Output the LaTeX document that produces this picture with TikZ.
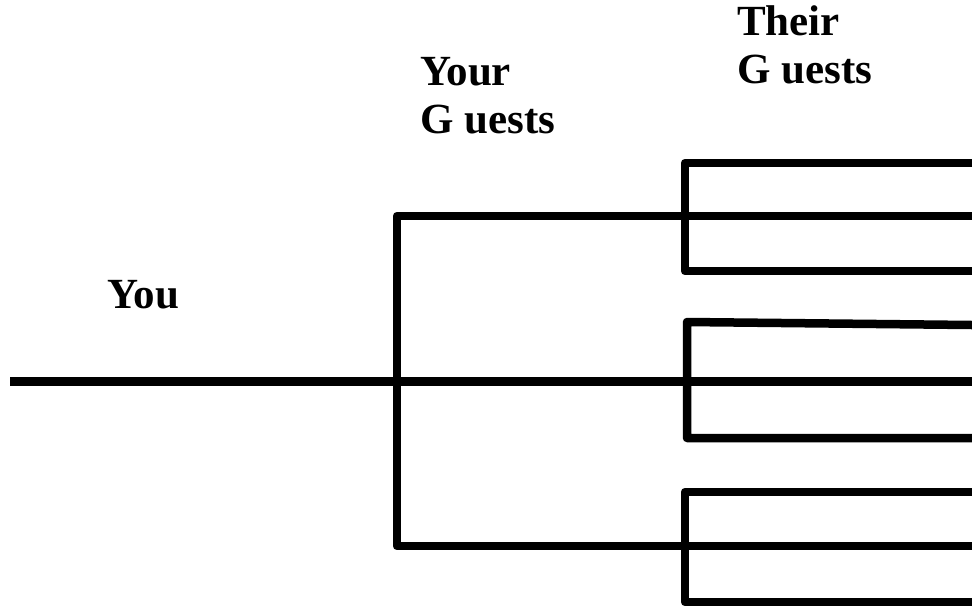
\documentclass[tikz,border=0pt]{standalone}
\usepackage{fontspec}
\setmainfont{Liberation Serif}
\begin{document}
\begin{tikzpicture}[x=1pt,y=-1pt,
  branch/.style={line width=8.5pt, line join=round},
  lbl/.style={anchor=base west, inner sep=0pt, font=\bfseries\fontsize{43}{48}\selectfont, align=left}]
\useasboundingbox (0,0) rectangle (972,606);
% labels (anchored at the baseline of the last line)
\node[lbl] (you) at (107,308) {You};
\node[lbl] (yours) at (420,133) {Your\\G uests};
\node[lbl] (theirs) at (737,83) {Their\\G uests};
% coordinates
\coordinate (root) at (10,381.5);
\coordinate (ra) at (972,381.5);
\coordinate (ta) at (972,216);
\coordinate (tb) at (397,216);
\coordinate (ba) at (397,546);
\coordinate (bb) at (972,546);
% group 1
\coordinate (g1a) at (972,163);
\coordinate (g1b) at (685,163);
\coordinate (g1c) at (685,271);
\coordinate (g1d) at (972,271);
% group 2
\coordinate (g2a) at (972,325);
\coordinate (g2b) at (687,322);
\coordinate (g2c) at (687,438);
\coordinate (g2d) at (972,438);
% group 3
\coordinate (g3a) at (972,492);
\coordinate (g3b) at (685,492);
\coordinate (g3c) at (685,602);
\coordinate (g3d) at (972,602);
% drawing
\draw[branch] (root) -- (ra);
\draw[branch] (ta) -- (tb) -- (ba) -- (bb);
\draw[branch] (g1a) -- (g1b) -- (g1c) -- (g1d);
\draw[branch] (g2a) -- (g2b) -- (g2c) -- (g2d);
\draw[branch] (g3a) -- (g3b) -- (g3c) -- (g3d);
\end{tikzpicture}
\end{document}
